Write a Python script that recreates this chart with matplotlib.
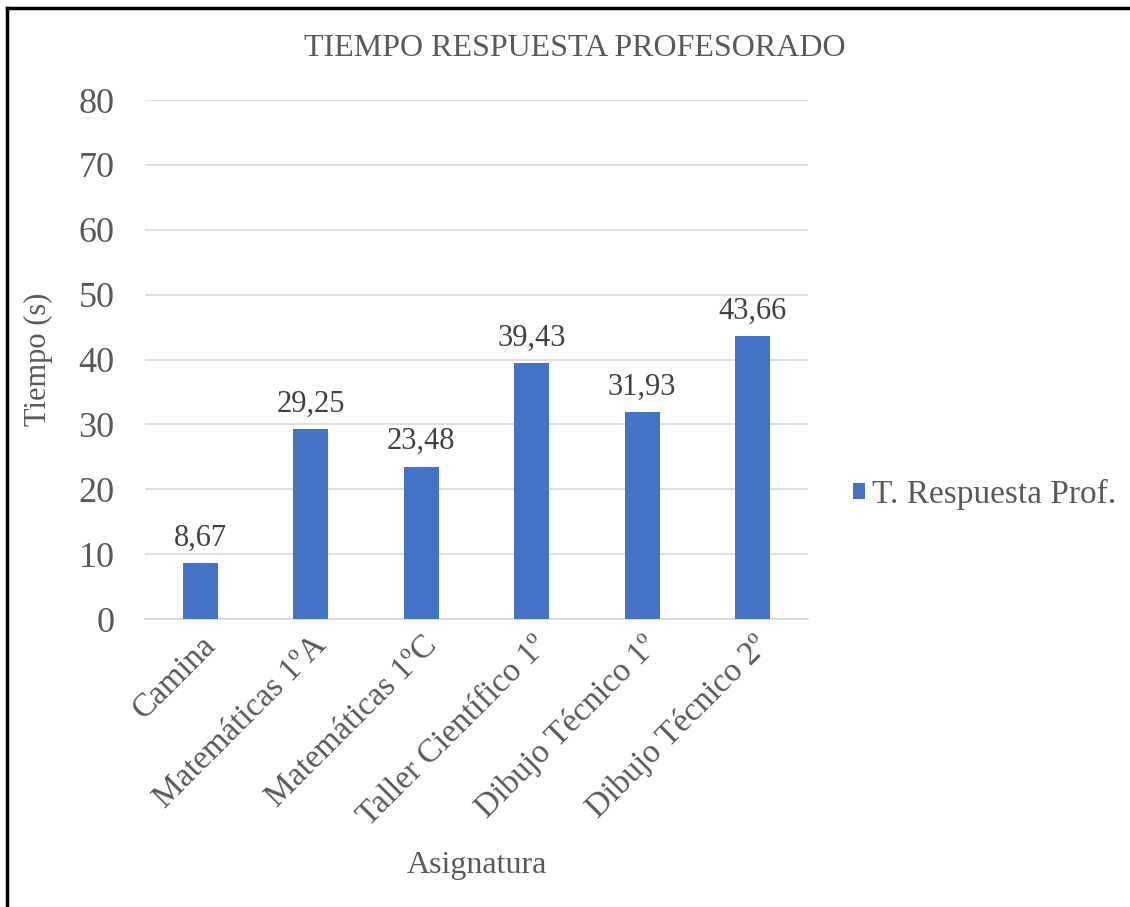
import matplotlib.pyplot as plt
from matplotlib.lines import Line2D

# datos
asignaturas = ["Camina", "Matemáticas 1ºA", "Matemáticas 1ºC",
               "Taller Científico 1º", "Dibujo Técnico 1º", "Dibujo Técnico 2º"]
tiempos = [8.67, 29.25, 23.48, 39.43, 31.93, 43.66]
etiquetas = ["8,67", "29,25", "23,48", "39,43", "31,93", "43,66"]

plt.rcParams['font.family'] = ['Liberation Serif', 'DejaVu Serif']
gris = "#595959"

fig = plt.figure(figsize=(11.3, 9.07), dpi=100)
ax = fig.add_axes([0.1283, 0.3175, 0.5867, 0.5722])

x = range(len(asignaturas))
ax.bar(x, tiempos, width=0.32, color="#4472C4", label="T. Respuesta Prof.", zorder=3)
for xi, v, t in zip(x, tiempos, etiquetas):
    ax.text(xi, v + 1.6, t, ha="center", va="bottom", fontsize=22, color="#404040")

ax.set_ylim(0, 80)
ax.set_xlim(-0.5, len(asignaturas) - 0.5)
ax.set_yticks(range(0, 81, 10))
ax.grid(axis="y", color="#D9D9D9", linewidth=1.2, zorder=0)
for s in ["top", "right", "left"]:
    ax.spines[s].set_visible(False)
ax.spines["bottom"].set_color("#D9D9D9")
ax.spines["bottom"].set_linewidth(1.2)
ax.tick_params(length=0, labelsize=26, colors=gris, pad=22, axis="y")
ax.tick_params(length=0, labelsize=24, colors=gris, pad=8, axis="x")
ax.set_xticks(list(x))
ax.set_xticklabels(asignaturas, rotation=45, ha="right", rotation_mode="anchor")

ax.set_ylabel("Tiempo (s)", fontsize=22, color=gris, labelpad=18)
fig.text(0.4217, 0.046, "Asignatura", ha="center", va="center", fontsize=23, color=gris)
fig.text(0.509, 0.947, "TIEMPO RESPUESTA PROFESORADO", ha="center", va="center",
         fontsize=23, color=gris)

ax.legend(loc="center left", bbox_to_anchor=(1.022, 0.24), frameon=False,
          fontsize=24, handlelength=0.38, handleheight=0.38, handletextpad=0.2,
          labelcolor=gris)

# marco
fig.add_artist(Line2D([0.0058, 0.0058], [0, 0.991], color="black", linewidth=2.5))
fig.add_artist(Line2D([0.0058, 1], [0.991, 0.991], color="black", linewidth=2.5))

fig.savefig("out.png", dpi=100)
